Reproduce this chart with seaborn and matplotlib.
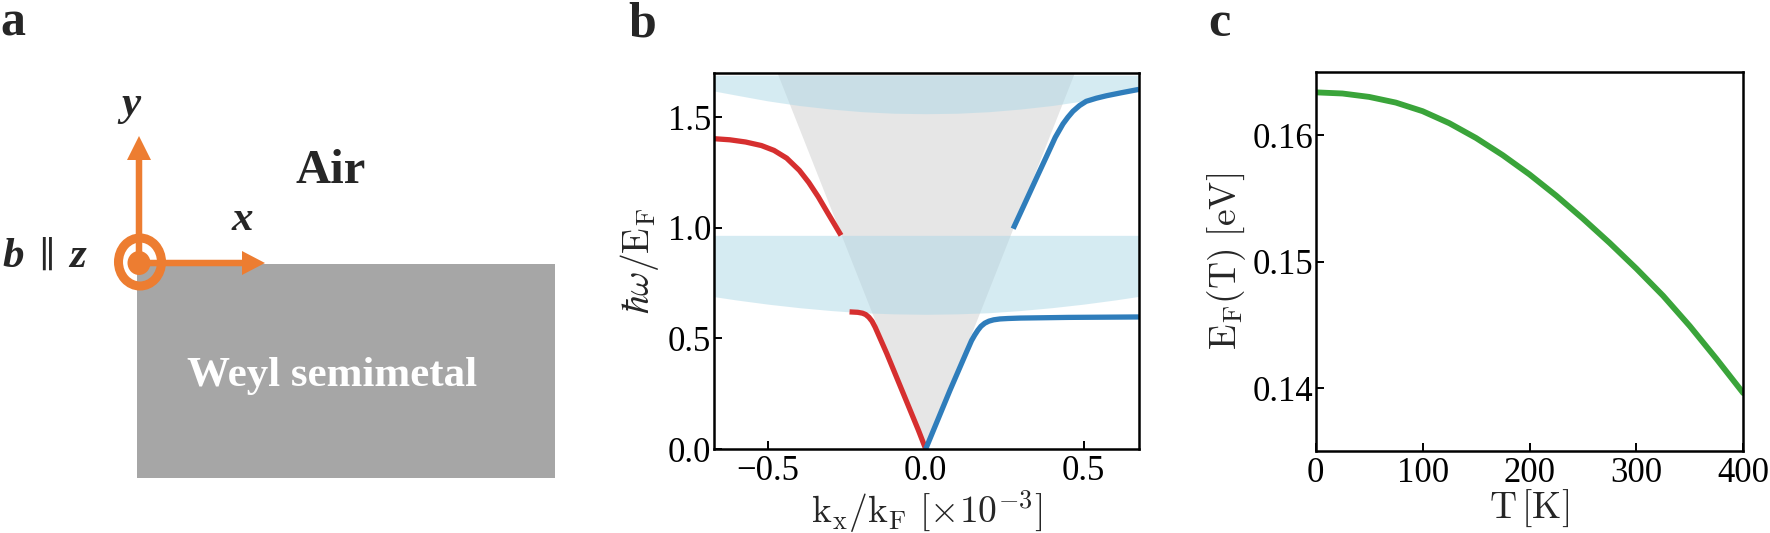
import matplotlib
matplotlib.use("Agg")
import matplotlib.pyplot as plt
import seaborn as sns
import pandas as pd
from matplotlib.patches import Rectangle, Ellipse, FancyArrow

# ---- panel b data (k_x/k_F in 1e-3, hbar*omega/E_F) ----
red_up_k = [-0.67, -0.62, -0.57, -0.52, -0.48, -0.44, -0.40, -0.37, -0.34, -0.31, -0.29, -0.268]
red_up_w = [1.403, 1.398, 1.388, 1.372, 1.350, 1.315, 1.260, 1.205, 1.140, 1.067, 1.019, 0.966]

red_lo_k = [-0.241, -0.215, -0.2, -0.19, -0.18, -0.17, -0.160, -0.123, -0.0707, -0.023, 0.0]
red_lo_w = [0.620, 0.618, 0.614, 0.608, 0.596, 0.578, 0.551, 0.431, 0.250, 0.0845, 0.0]

blue_lo_k = [0.0, 0.0767, 0.129, 0.145, 0.155, 0.165, 0.175, 0.187, 0.2, 0.215, 0.235, 0.26, 0.3,
             0.45, 0.675]
blue_lo_w = [0.0, 0.265, 0.438, 0.490, 0.515, 0.537, 0.555, 0.569, 0.578, 0.584, 0.588, 0.590, 0.592,
             0.595, 0.597]

blue_up_k = [0.2767, 0.30, 0.329, 0.355, 0.382, 0.41, 0.4345, 0.45, 0.466, 0.487, 0.508, 0.54,
             0.5715, 0.62, 0.675]
blue_up_w = [0.996, 1.068, 1.158, 1.239, 1.322, 1.409, 1.470, 1.500, 1.527, 1.553, 1.572, 1.586,
             1.597, 1.611, 1.626]

# light cone (grey) and the two shaded bands
cone_k = [-0.47, 0.0, 0.47]
cone_w = [1.7, 0.0, 1.7]

band_k = [-0.675, -0.6, -0.5, -0.4, -0.3, -0.2, -0.1, 0.0, 0.1, 0.2, 0.3, 0.4, 0.5, 0.6, 0.675]
band_up_lo = [1.620, 1.600, 1.574, 1.553, 1.537, 1.525, 1.518, 1.516,
              1.518, 1.525, 1.537, 1.553, 1.574, 1.600, 1.620]
band_up_hi = 1.69
band_lo_lo = [0.690, 0.674, 0.655, 0.639, 0.626, 0.616, 0.611, 0.609,
              0.611, 0.616, 0.626, 0.639, 0.655, 0.674, 0.690]
band_lo_hi = 0.966

# ---- panel c data: Fermi energy vs temperature ----
temp_K = [0, 25, 50, 75, 100, 125, 150, 175, 200, 225, 250, 275, 300, 325, 350, 375, 400]
ef_eV = [0.16339, 0.16330, 0.16303, 0.16258, 0.16190, 0.16095, 0.15978, 0.15842, 0.15690,
         0.15522, 0.15340, 0.15148, 0.14945, 0.14730, 0.14490, 0.14230, 0.13960]

sns.set_theme(style="ticks")
plt.rcParams['font.family'] = ['Liberation Serif', 'DejaVu Serif']
plt.rcParams['mathtext.fontset'] = 'cm'
plt.rcParams['axes.linewidth'] = 1.8
plt.rcParams['xtick.direction'] = 'in'
plt.rcParams['ytick.direction'] = 'in'

RED = '#d62f2f'
BLUE = '#2f7dbb'
GREEN = '#3aa43a'
ORANGE = '#ed7d31'

fig = plt.figure(figsize=(17.7, 5.33), dpi=100)

# ---------------- panel a: schematic ----------------
axa = fig.add_axes([0, 0, 600 / 1770, 1])
axa.set_xlim(0, 600)
axa.set_ylim(533, 0)
axa.axis('off')
axa.add_patch(Rectangle((137, 264), 418, 213.5, color='#a6a6a6', lw=0))
axa.add_patch(FancyArrow(139, 263, 0, -127, width=6.5, head_width=24, head_length=24,
                         length_includes_head=True, color=ORANGE, lw=0))
axa.add_patch(FancyArrow(139, 263, 126, 0, width=6.5, head_width=24, head_length=23,
                         length_includes_head=True, color=ORANGE, lw=0))
axa.add_patch(Ellipse((140, 262), 43, 48, fill=False, ec=ORANGE, lw=6.5))
axa.add_patch(Ellipse((139, 263), 23, 24, color=ORANGE, lw=0))
axa.text(0, 36, 'a', fontsize=36, fontweight='bold', va='baseline', ha='left')
axa.text(131, 115, 'y', fontsize=31, fontweight='bold', style='italic', ha='center', va='baseline')
axa.text(242, 230, 'x', fontsize=31, fontweight='bold', style='italic', ha='center', va='baseline')
axa.text(2, 267, 'b', fontsize=31, fontweight='bold', style='italic', ha='left', va='baseline')
axa.text(47, 267, '\u2225', fontsize=26, ha='center', va='baseline',
         family=['DejaVu Serif'])
axa.text(69, 267, 'z', fontsize=31, fontweight='bold', style='italic', ha='left', va='baseline')
axa.text(331, 183, 'Air', fontsize=35, fontweight='bold', ha='center', va='baseline')
axa.text(332, 386, 'Weyl semimetal', fontsize=31, fontweight='bold', color='white',
         ha='center', va='baseline')

# ---------------- panel b: dispersion ----------------
axb = fig.add_axes([714 / 1770, (533 - 449) / 533, 425 / 1770, 376 / 533])
axb.fill_between(cone_k, cone_w, 1.7, color='#e6e6e6', lw=0)
axb.fill_between(band_k, band_up_lo, band_up_hi, color='lightblue', alpha=0.5, lw=0)
axb.fill_between(band_k, band_lo_lo, band_lo_hi, color='lightblue', alpha=0.5, lw=0)
for kk, ww, cc in [(red_up_k, red_up_w, RED), (red_lo_k, red_lo_w, RED),
                   (blue_lo_k, blue_lo_w, BLUE), (blue_up_k, blue_up_w, BLUE)]:
    sns.lineplot(x=kk, y=ww, ax=axb, color=cc, lw=3.8, sort=False,
                 estimator=None, solid_capstyle='butt', solid_joinstyle='round')
axb.set_xlim(-0.67, 0.675)
axb.set_ylim(0, 1.7)
axb.set_xticks([-0.5, 0.0, 0.5])
axb.set_yticks([0.0, 0.5, 1.0, 1.5])
axb.set_xlabel(r'$\mathrm{k_x/k_F\ [\times 10^{-3}]}$', fontsize=27)
axb.set_ylabel(r'$\hbar\omega/\mathrm{E_F}$', fontsize=27)
axb.xaxis.set_label_coords(0.5, -0.104)
axb.yaxis.set_label_coords(-0.125, 0.5)

# ---------------- panel c: E_F(T) ----------------
axc = fig.add_axes([1315.7 / 1770, (533 - 451.3) / 533, 427.6 / 1770, 379.3 / 533])
df_c = pd.DataFrame({'T': temp_K, 'EF': ef_eV})
sns.lineplot(data=df_c, x='T', y='EF', ax=axc, color=GREEN, lw=4.2)
axc.set_xlim(0, 400)
axc.set_ylim(0.135, 0.165)
axc.set_xticks([0, 100, 200, 300, 400])
axc.set_yticks([0.14, 0.15, 0.16])
axc.set_xlabel(r'$\mathrm{T\,[K]}$', fontsize=27)
axc.set_ylabel(r'$\mathrm{E_F(T)\ [eV]}$', fontsize=27)
axc.xaxis.set_label_coords(0.5, -0.097)
axc.yaxis.set_label_coords(-0.159, 0.5)

for ax in (axb, axc):
    for s in ax.spines.values():
        s.set_visible(True)
        s.set_linewidth(1.8)
        s.set_color('black')
    ax.tick_params(axis='both', which='major', labelsize=25, length=6, width=1.4,
                   color='black', labelcolor='black', top=False, right=False)
    ax.tick_params(axis='x', pad=4)
    ax.tick_params(axis='y', pad=2)
    ax.grid(False)

fig.text(628 / 1770, 1 - 36.7 / 533, 'b', fontsize=36, fontweight='bold', va='baseline')
fig.text(1208 / 1770, 1 - 35.6 / 533, 'c', fontsize=36, fontweight='bold', va='baseline')

fig.savefig('out.png', dpi=100)
